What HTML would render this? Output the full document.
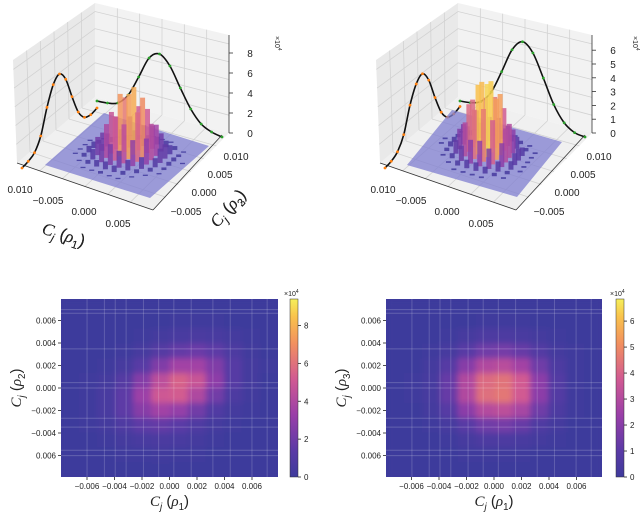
<!DOCTYPE html>
<html><head><meta charset="utf-8"><style>
html,body{margin:0;padding:0;background:#fff}
svg{display:block;font-family:"Liberation Sans",sans-serif}
</style></head><body>
<svg id="fig" width="640" height="512" viewBox="0 0 640 512" xmlns="http://www.w3.org/2000/svg">
<defs>
<filter id="blur" x="-5%" y="-5%" width="110%" height="110%"><feGaussianBlur stdDeviation="3"/></filter>
<clipPath id="clipL"><rect x="61" y="299" width="217" height="178"/></clipPath>
<clipPath id="clipR"><rect x="386" y="299" width="216" height="178"/></clipPath>
<linearGradient id="cbar" x1="0" y1="1" x2="0" y2="0">
<stop offset="0" stop-color="#3e3a9c"/><stop offset="0.15" stop-color="#5b3aa6"/><stop offset="0.35" stop-color="#9a3fa8"/><stop offset="0.55" stop-color="#d15a92"/><stop offset="0.75" stop-color="#f2905f"/><stop offset="0.9" stop-color="#f9c24c"/><stop offset="1" stop-color="#f5ef5a"/>
</linearGradient>
</defs>
</svg>
<script>
// ---- data ----
const gridLeft = [
[0,0,0,0,0,0,0,0,0,0,0,0],
[0,0,0,0,0,0,0.1,0.1,0.1,0,0,0],
[0,0,0,0,0.1,0.3,0.5,0.6,0.5,0.3,0.1,0],
[0,0,0,0.1,0.4,1.0,1.6,1.8,1.4,0.7,0.2,0],
[0,0,0.1,0.4,1.2,2.4,3.4,3.4,2.4,1.1,0.3,0.1],
[0,0.1,0.3,1.0,2.5,4.2,5.2,4.6,2.8,1.1,0.3,0],
[0,0.1,0.5,1.4,3.2,4.8,5.0,3.8,2.0,0.7,0.2,0],
[0,0.1,0.5,1.4,2.6,3.4,3.0,2.0,0.9,0.3,0.1,0],
[0,0.1,0.3,0.8,1.4,1.6,1.3,0.8,0.3,0.1,0,0],
[0,0,0.1,0.3,0.5,0.6,0.5,0.3,0.1,0,0,0],
[0,0,0,0.1,0.1,0.2,0.1,0.1,0,0,0,0],
[0,0,0,0,0,0,0,0,0,0,0,0]];
const gridRight = [
[0,0,0,0,0,0,0,0,0,0,0,0],
[0,0,0,0,0,0.1,0.1,0.1,0,0,0,0],
[0,0,0,0.1,0.3,0.5,0.5,0.4,0.2,0.1,0,0],
[0,0,0.1,0.3,0.9,1.4,1.5,1.2,0.7,0.2,0.1,0],
[0,0,0.2,0.8,1.9,2.8,3.0,2.5,1.4,0.5,0.1,0],
[0,0.1,0.3,1.2,2.8,4.0,4.2,3.6,2.0,0.7,0.1,0],
[0,0.1,0.3,1.2,2.8,4.1,4.3,3.6,2.0,0.7,0.1,0],
[0,0,0.2,0.8,2.0,2.9,3.1,2.6,1.4,0.5,0.1,0],
[0,0,0.1,0.3,0.9,1.4,1.5,1.2,0.6,0.2,0,0],
[0,0,0,0.1,0.3,0.5,0.5,0.4,0.2,0.1,0,0],
[0,0,0,0,0.1,0.1,0.1,0.1,0,0,0,0],
[0,0,0,0,0,0,0,0,0,0,0,0]];
const heatTicks = [-0.006,-0.004,-0.002,0.000,0.002,0.004,0.006];
const cbarTicksLeft = [0,2,4,6,8];
const cbarTicksRight = [0,1,2,3,4,5,6];
const orangeLeft = [0,0.2,0.6,1.8,4.2,6.0,6.6,5.6,3.4,1.4,0.4,0.2,0.4];
const greenLeft  = [0,0.1,0.4,1.5,3.6,5.8,6.5,5.6,3.7,1.9,0.7,0.2,0];
const orangeRight = [0,0.15,0.5,1.4,3.2,4.4,4.8,4.0,2.4,1.0,0.3,0.2,0.4];
const greenRight  = [0,0.1,0.4,1.3,3.0,4.8,5.6,5.0,3.4,1.7,0.6,0.1,0];
const zTicksLeft = [0,2,4,6,8];
const zTicksRight = [0,1,2,3,4,5,6];
const xTicks3d = ["0.010","\u22120.005","0.000","0.005"];
const yTicks3d = ["\u22120.005","0.000","0.005","0.010"];

// ---- helpers ----
const NS="http://www.w3.org/2000/svg";
const svg=document.getElementById('fig');
function mk(tag,attrs,parent){const e=document.createElementNS(NS,tag);for(const k in attrs)e.setAttribute(k,attrs[k]);(parent||svg).appendChild(e);return e;}
const stops=[[0,[62,58,156]],[0.15,[91,58,166]],[0.35,[154,63,168]],[0.55,[209,90,146]],[0.75,[242,144,95]],[0.9,[249,194,76]],[1,[245,239,90]]];
function cmap(t){t=Math.max(0,Math.min(1,t));for(let i=1;i<stops.length;i++){if(t<=stops[i][0]){const a=stops[i-1],b=stops[i];const f=(t-a[0])/(b[0]-a[0]);const c=a[1].map((v,j)=>Math.round(v+(b[1][j]-v)*f));return `rgb(${c[0]},${c[1]},${c[2]})`;}}return 'rgb(245,239,90)';}
function label(x,y,txt,size,anchor,parent,name,rot){const t=mk('text',{x:x,y:y,'font-size':size,'text-anchor':anchor||'middle',fill:'#222'},parent);if(rot)t.setAttribute('transform',`rotate(${rot} ${x} ${y})`);t.textContent=txt;return t;}
function mathTitle(x,y,idx,size,rot,name){const t=mk('text',{x:x,y:y,'font-size':size,'text-anchor':'middle',fill:'#222',transform:`rotate(${rot} ${x} ${y})`});

const a=mk('tspan',{'font-style':'italic','font-family':'Liberation Serif, serif'},t);a.textContent='C';
const b=mk('tspan',{'font-size':size*0.65,dy:size*0.25,'font-style':'italic'},t);b.textContent='j';
const c=mk('tspan',{dy:-size*0.25},t);c.textContent=' (';
const d=mk('tspan',{'font-style':'italic','font-family':'Liberation Serif, serif'},t);d.textContent='\u03C1';
const e=mk('tspan',{'font-size':size*0.65,dy:size*0.25},t);e.textContent=idx;
const f=mk('tspan',{dy:-size*0.25},t);f.textContent=')';}
function smoothPath(pts){let d=`M${pts[0][0]},${pts[0][1]}`;for(let i=0;i<pts.length-1;i++){const p0=pts[Math.max(0,i-1)],p1=pts[i],p2=pts[i+1],p3=pts[Math.min(pts.length-1,i+2)];
 const c1=[p1[0]+(p2[0]-p0[0])/6,p1[1]+(p2[1]-p0[1])/6],c2=[p2[0]-(p3[0]-p1[0])/6,p2[1]-(p3[1]-p1[1])/6];d+=` C${c1[0]},${c1[1]} ${c2[0]},${c2[1]} ${p2[0]},${p2[1]}`;}return d;}

// ---- heatmaps ----
function heatmap(opts){
 const {x0,x1,y0,y1,grid,vmax,cbx,ticks,clip,yIdx,name}=opts;
 const g=mk('g',{});
 const cx=(x0+x1)/2, cy=(y0+y1)/2;
 const sx=v=>cx+v/0.002*27.5, sy=v=>cy-v/0.002*22.5;
 const gc=mk('g',{'clip-path':`url(#${clip})`},g);
 mk('rect',{x:x0,y:y0,width:x1-x0,height:y1-y0,fill:cmap(0)},gc);
 const gb=mk('g',{filter:'url(#blur)'},gc);
 const n=grid.length, m=grid[0].length;
 const dx=(x1-x0)/m, dy=(y1-y0)/n;
 for(let r=0;r<n;r++)for(let c=0;c<m;c++){
  const rc=mk('rect',{x:x0+c*dx,y:y0+r*dy,width:dx+0.5,height:dy+0.5,fill:cmap(grid[r][c]/vmax*1.05)},gb);
  
  
 }
 [0.12,0.2,0.25,0.3,0.38,0.45,0.52,0.6,0.7,0.78,0.88,0.95].forEach(f=>mk('line',{x1:x0+f*(x1-x0),x2:x0+f*(x1-x0),y1:y0,y2:y1,stroke:'#fff','stroke-opacity':0.18,'stroke-width':1},gc));
 [0.06,0.08,0.28,0.47,0.5,0.67,0.72,0.85,0.88].forEach(f=>mk('line',{y1:y0+f*(y1-y0),y2:y0+f*(y1-y0),x1:x0,x2:x1,stroke:'#fff','stroke-opacity':0.2,'stroke-width':1},gc));
 ticks.forEach(v=>{
  mk('line',{x1:sx(v),x2:sx(v),y1:y1,y2:y1+3,stroke:'#222','stroke-width':0.8},g);
  label(sx(v),y1+12,(v<0?'\u2212':'')+Math.abs(v).toFixed(3),8,'middle',g,'x-tick-label');
  mk('line',{x1:x0-3,x2:x0,y1:sy(v),y2:sy(v),stroke:'#222','stroke-width':0.8},g);
  label(x0-5,sy(v)+3,(v<0&&v>-0.005?'\u2212':'')+Math.abs(v).toFixed(3),8,'end',g,'y-tick-label');
 });
 const cb=mk('rect',{x:cbx,y:y0,width:8,height:y1-y0,fill:'url(#cbar)',stroke:'#333','stroke-width':0.5},g);
 
 const cbTop=opts.cbmax;
 opts.cbTicks.forEach(v=>{const y=y1-(v/cbTop)*(y1-y0);mk('line',{x1:cbx+8,x2:cbx+11,y1:y,y2:y,stroke:'#222','stroke-width':0.8},g);label(cbx+14,y+3,String(v),8,'start',g,'colorbar-tick');});
 const ex=mk('text',{x:cbx-6,y:y0-3,'font-size':7,fill:'#222'},g);ex.textContent='\u00D710';const sup=mk('tspan',{dy:-3,'font-size':5},ex);sup.textContent='4';
 
 mathTitle(cx,y1+29,'1',15,0,'x-axis-title');
 mathTitle(x0-40,cy,yIdx,15,-90,'y-axis-title');
}
heatmap({x0:61,x1:278,y0:299,y1:477,grid:gridLeft,vmax:9.4,cbx:290,ticks:heatTicks,clip:'clipL',yIdx:'2',name:'heatmap-rho1-rho2',cbmax:9.4,cbTicks:cbarTicksLeft});
heatmap({x0:386,x1:602,y0:299,y1:477,grid:gridRight,vmax:6.85,cbx:616,ticks:heatTicks,clip:'clipR',yIdx:'3',name:'heatmap-rho1-rho3',cbmax:6.85,cbTicks:cbarTicksRight});

// ---- 3D plots ----
function plot3d(o){
 const dx=o.dx;const g=mk('g',{transform:`translate(${dx},0)`});
 const L=[17,163],Lt=[13,60],B=[95,97],Bt=[95,3],R=[229,133],Rt=[229,35],F=[153,210];
 const P=a=>a.join(',');
 mk('polygon',{points:[L,B,R,F].map(P).join(' '),fill:'#f0f0f0'},g);
 mk('polygon',{points:[L,Lt,Bt,B].map(P).join(' '),fill:'#e9e9e9'},g);
 mk('polygon',{points:[B,Bt,Rt,R].map(P).join(' '),fill:'#f2f2f2'},g);
 const lerp=(a,b,t)=>[a[0]+(b[0]-a[0])*t,a[1]+(b[1]-a[1])*t];
 const gl={stroke:'#d2d2d2','stroke-width':0.8};
 for(let i=1;i<=5;i++){const t=i/6;
  let a=lerp(L,B,t),b=lerp(Lt,Bt,t);mk('line',{x1:a[0],y1:a[1],x2:b[0],y2:b[1],...gl},g);
  a=lerp(B,R,t);b=lerp(Bt,Rt,t);mk('line',{x1:a[0],y1:a[1],x2:b[0],y2:b[1],...gl},g);
  a=lerp(L,F,t);b=lerp(B,R,t);mk('line',{x1:a[0],y1:a[1],x2:b[0],y2:b[1],...gl},g);
  a=lerp(F,R,t);b=lerp(L,B,t);mk('line',{x1:a[0],y1:a[1],x2:b[0],y2:b[1],...gl},g);
 }
 for(let i=1;i<=5;i++){const t=i/5.5;
  let a=lerp(L,Lt,t),b=lerp(B,Bt,t),c=lerp(R,Rt,t);
  mk('polyline',{points:[a,b,c].map(P).join(' '),fill:'none',...gl},g);}
 mk('line',{x1:L[0],y1:L[1],x2:F[0],y2:F[1],stroke:'#333','stroke-width':0.8},g);
 mk('line',{x1:F[0],y1:F[1],x2:R[0]-7,y2:R[1]+2,stroke:'#333','stroke-width':0.8},g);
 mk('line',{x1:R[0],y1:o.zBase,x2:R[0],y2:35,stroke:'#333','stroke-width':0.8},g);
 function curve(vals,a,b,col,nm){
  const pts=vals.map((v,i)=>{const t=i/(vals.length-1);const q=lerp(a,b,t);return [q[0],q[1]-v*o.zscale];});
  const pl=mk('path',{d:smoothPath(pts),fill:'none',stroke:'#111','stroke-width':1.6},g);
  
  pts.forEach(q=>{const d=mk('circle',{cx:q[0],cy:q[1],r:1.4,fill:col},g);});
 }
 curve(o.orange,o.oa,o.ob,'#ff7f0e','marginal-x');
 curve(o.green,o.ga,o.gb,'#2ca02c','marginal-y');
 const O=[o.plane[0],o.plane[1]],A=[o.plane[2],o.plane[3]],Bv=[o.plane[4],o.plane[5]];
 const proj=(u,v)=>[O[0]+u*A[0]+v*Bv[0],O[1]+u*A[1]+v*Bv[1]];
 const pl=mk('polygon',{points:[proj(0,0),proj(1,0),proj(1,1),proj(0,1)].map(P).join(' '),fill:'#7f7dd0','fill-opacity':0.75},g);
 
 const grid=o.grid,n=grid.length,m=grid[0].length;
 const cells=[];
 for(let r=0;r<n;r++)for(let c=0;c<m;c++){const u=(c+0.5)/m,v=1-(r+0.5)/n;const p=proj(u,v);cells.push([p,grid[r][c]]);}
 cells.sort((a,b)=>a[0][1]-b[0][1]);
 cells.forEach(([p,val])=>{if(val<0.05)return;
  const h=val*o.spikeScale;
  const s=mk('rect',{x:p[0]-2.5,y:p[1]-h,width:5,height:h,fill:cmap(val/o.vmax*1.5),'fill-opacity':0.85},g);
  
  
 });
 o.zTicks.forEach(v=>{const y=o.zBase-v*o.zscale;mk('line',{x1:R[0],x2:R[0]+4,y1:y,y2:y,stroke:'#333','stroke-width':0.8},g);label(R[0]+21,y+4,String(v),10,'middle',g,'z-tick-label');});
 const zx=R[0]+o.zlab;
 const zl=mk('text',{x:zx,y:36,'font-size':7,fill:'#222',transform:`rotate(90 ${zx} 36)`},g);zl.textContent='\u00D710';const zs=mk('tspan',{dy:-3,'font-size':5},zl);zs.textContent='4';
 
 const xp=[[20,193],[48,204],[84,215],[118,227]];
 xTicks3d.forEach((t,i)=>label(xp[i][0],xp[i][1],t,10,'middle',g,'x-tick-label'));
 const yp=[[186,215],[204,196],[220,178],[236,160]];
 yTicks3d.forEach((t,i)=>label(yp[i][0],yp[i][1],t,10,'middle',g,'y-tick-label'));
 mathTitle(62,240,'1',17,18,'x-axis-title');
 mathTitle(232,212,o.yIdx,17,-48,'y-axis-title');
}
plot3d({dx:0,name:'surface-rho1-rho2',grid:gridLeft,vmax:9.4,spikeScale:13,zscale:10,zBase:133,zTicks:zTicksLeft,zlab:46,
 plane:[45,165,105,33,59,-52],orange:orangeLeft,green:greenLeft,oa:[22,168],ob:[97,112],ga:[97,101],gb:[222,137],yIdx:'2'});
plot3d({dx:363,name:'surface-rho1-rho3',grid:gridRight,vmax:6.85,spikeScale:17,zscale:13.8,zBase:133,zTicks:zTicksRight,zlab:41,
 plane:[44,165,110,32,45,-55],orange:orangeRight,green:greenRight,oa:[22,168],ob:[97,112],ga:[97,101],gb:[222,137],yIdx:'3'});
</script>
</body></html>
